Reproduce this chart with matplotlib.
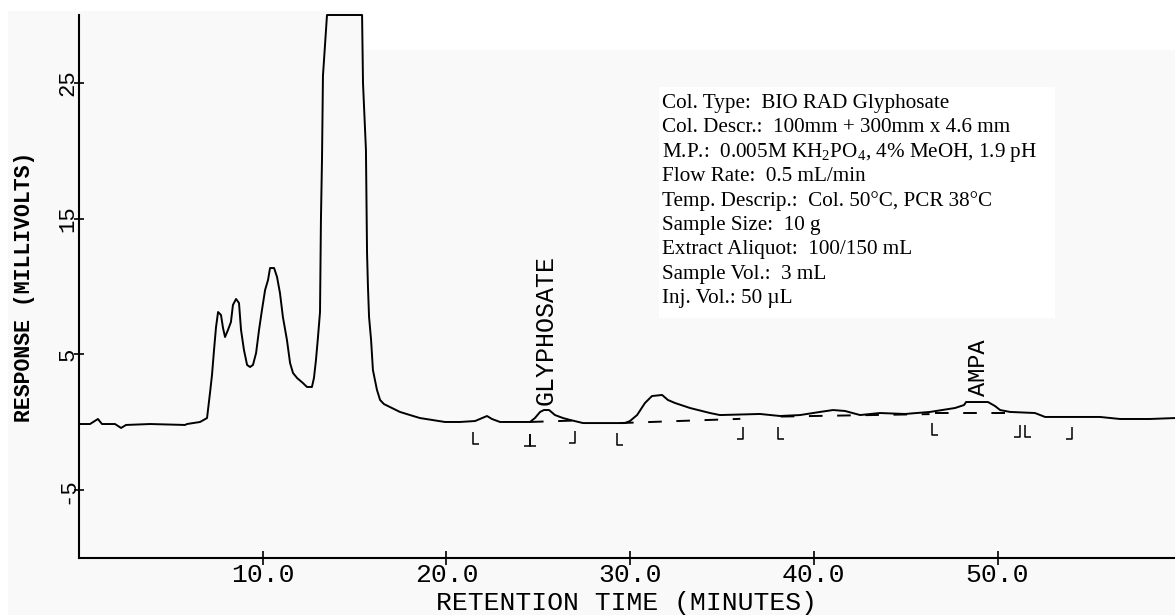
import matplotlib
matplotlib.use("Agg")
import matplotlib.pyplot as plt
from matplotlib.path import Path
from matplotlib.patches import Polygon, Rectangle

# detector trace (minutes, millivolts)
time_min = [0.0, 0.60, 1.03, 1.25, 1.96, 2.29, 2.56, 3.87, 5.77, 5.88, 6.59, 6.97,
            7.13, 7.24, 7.35, 7.46, 7.57, 7.73, 7.84, 7.95, 8.11, 8.27, 8.38, 8.55,
            8.71, 8.82, 8.98, 9.15, 9.31, 9.47, 9.64, 9.80, 9.96, 10.13, 10.29, 10.40,
            10.62, 10.78, 10.94, 11.10, 11.32, 11.49, 11.65, 11.87, 12.19, 12.41, 12.68,
            12.79, 12.90, 13.01, 13.12, 13.17, 13.23, 13.28, 13.50, 15.41, 15.46, 15.62,
            15.68, 15.73, 15.79, 15.90, 16.00, 16.11, 16.22, 16.39, 16.60, 16.93, 17.47,
            18.02, 18.56, 19.92, 20.74, 21.56, 22.21, 22.48, 22.92, 24.55, 24.82, 25.10,
            25.31, 25.59, 25.91, 26.35, 26.73, 27.44, 29.72, 29.99, 30.38, 30.81, 31.19,
            31.74, 32.06, 32.44, 33.26, 34.35, 34.89, 37.07, 38.16, 39.25, 40.34, 41.05,
            41.70, 42.52, 43.60, 44.96, 46.33, 47.69, 48.18, 48.29, 49.48, 49.86, 50.14,
            50.68, 52.04, 52.59, 55.58, 56.67, 58.30, 59.66]
response_mv = [-0.13, -0.13, 0.24, -0.13, -0.13, -0.42, -0.20, -0.13, -0.20, -0.13, 0.02, 0.31,
               2.15, 3.48, 5.32, 7.02, 8.12, 7.90, 6.94, 6.28, 6.80, 7.38, 8.64, 9.08,
               8.78, 6.80, 5.32, 4.22, 4.07, 4.22, 5.10, 6.80, 8.27, 9.74, 10.48, 11.36,
               11.36, 10.70, 9.52, 7.75, 6.06, 4.36, 3.63, 3.26, 2.89, 2.60, 2.60,
               3.26, 4.59, 6.28, 8.12, 14.90, 19.54, 25.51, 30.0, 30.0, 24.99, 20.06,
               12.47, 9.96, 7.75, 6.06, 3.85, 3.11, 2.38, 1.64, 1.34, 1.12, 0.76,
               0.53, 0.31, 0.02, 0.02, 0.09, 0.46, 0.24, 0.02, 0.02, 0.31, 0.76,
               0.90, 0.90, 0.53, 0.31, 0.17, -0.06, -0.06, 0.09, 0.53, 1.42, 1.93,
               2.01, 1.64, 1.42, 1.05, 0.68, 0.53, 0.61, 0.46, 0.53, 0.76, 0.90,
               0.83, 0.53, 0.68, 0.61, 0.76, 1.05, 1.27, 1.49, 1.49, 1.20, 0.90,
               0.76, 0.68, 0.39, 0.39, 0.24, 0.24, 0.31]

# integration baselines (dashed)
base_t0 = [24.55, 29.45, 38.2, 46.6]
base_t1 = [26.85, 36.0, 46.3, 51.06]
base_v0 = [0.02, -0.06, 0.42, 0.70]
base_v1 = [0.12, 0.25, 0.60, 0.70]

# peak start / end tick marks
start_t = [21.6, 24.7, 29.45, 38.21, 46.6, 51.66]
start_v = [-1.16, -1.31, -1.23, -0.76, -0.5, -0.64]
end_t = [24.4, 26.84, 35.98, 51.06, 53.89]
end_v = [-1.31, -1.09, -0.79, -0.64, -0.76]

peak_names = ["GLYPHOSATE", "AMPA"]
peak_t = [25.4, 48.95]
peak_v = [1.3, 1.9]

x_ticks = [10, 20, 30, 40, 50]
x_tick_labels = ["10.0", "20.0", "30.0", "40.0", "50.0"]
y_ticks = [-5, 5, 15, 25]
y_tick_labels = ["-5", "5", "15", "25"]

info_lines = [
    "Col. Type:  BIO RAD Glyphosate",
    "Col. Descr.:  100mm + 300mm x 4.6 mm",
    r"M.P.:  0.005M KH$_\mathregular{2}$PO$_\mathregular{4}$, 4% MeOH, 1.9 pH",
    "Flow Rate:  0.5 mL/min",
    "Temp. Descrip.:  Col. 50°C, PCR 38°C",
    "Sample Size:  10 g",
    "Extract Aliquot:  100/150 mL",
    "Sample Vol.:  3 mL",
    "Inj. Vol.: 50 µL",
]

W, H = 1175, 615
MONO = "Liberation Mono"


def fx(px):
    return px / W


def fy(py):
    return 1 - py / H


fig = plt.figure(figsize=(W / 100, H / 100), dpi=100)
fig.patch.set_facecolor("white")

# light grey page behind the plot (with the notch top-right)
bg = Polygon([(fx(8), fy(11)), (fx(363), fy(11)), (fx(363), fy(50)), (1, fy(50)),
              (1, 0), (fx(8), 0)], closed=True, transform=fig.transFigure,
             facecolor="#f9f9f9", edgecolor="none", zorder=-10)
fig.patches.append(bg)

# white info box
box = Rectangle((fx(659), fy(318)), fx(1055) - fx(659), fy(87) - fy(318),
                transform=fig.transFigure, facecolor="white", edgecolor="none", zorder=-5)
fig.patches.append(box)

ax = fig.add_axes([fx(79), fy(558), 1 - fx(79), fy(15) - fy(558)])
ax.set_facecolor("none")

ax.plot(time_min, response_mv, color="black", lw=1.4, clip_on=False)

for t0, t1, v0, v1 in zip(base_t0, base_t1, base_v0, base_v1):
    ax.plot([t0, t1], [v0, v1], color="black", lw=1.4, ls=(0, (7, 7.5)))

L_mark = Path([(-0.25, 0.5), (-0.25, -0.5), (0.25, -0.5)],
              [Path.MOVETO, Path.LINETO, Path.LINETO])
J_mark = Path([(0.25, 0.5), (0.25, -0.5), (-0.25, -0.5)],
              [Path.MOVETO, Path.LINETO, Path.LINETO])
ax.plot(start_t, start_v, ls="none", marker=L_mark, ms=8.5, mfc="none", mec="black", mew=1.1)
ax.plot(end_t, end_v, ls="none", marker=J_mark, ms=8.5, mfc="none", mec="black", mew=1.1)

for name, t, v, fs in zip(peak_names, peak_t, peak_v, [18, 17]):
    ax.text(t, v, name, rotation=90, ha="center", va="bottom",
            family=MONO, fontsize=fs)

ax.set_xlim(0, (W - 79) / 18.37)
ax.set_ylim(-10, 30)

for side in ["top", "right"]:
    ax.spines[side].set_visible(False)
for side in ["left", "bottom"]:
    ax.spines[side].set_linewidth(1.5)

ax.set_xticks(x_ticks, x_tick_labels, family=MONO, fontsize=19)
ax.set_yticks(y_ticks, y_tick_labels, family=MONO, fontsize=16, rotation=90, va="center")
ax.tick_params(axis="x", direction="inout", length=9.5, width=1.2, pad=-1)
ax.tick_params(axis="y", direction="inout", length=7, width=1.2, pad=-3)

ax.set_xlabel("RETENTION TIME (MINUTES)", family=MONO, fontsize=19, labelpad=3)
ax.set_ylabel("RESPONSE (MILLIVOLTS)", family=MONO, fontsize=15.5, fontweight="bold")
ax.yaxis.set_label_coords((25 - 79) / (W - 79), 0.5)
ax.yaxis.label.set_va("center")

plt.rcParams["mathtext.fontset"] = "custom"
plt.rcParams["mathtext.rm"] = "Liberation Serif"
for i, line in enumerate(info_lines):
    fig.text(fx(662), fy(108 + 24.4 * i), line, family="Liberation Serif",
             fontsize=15.2, va="baseline", ha="left")

fig.savefig("out.png", dpi=100)
